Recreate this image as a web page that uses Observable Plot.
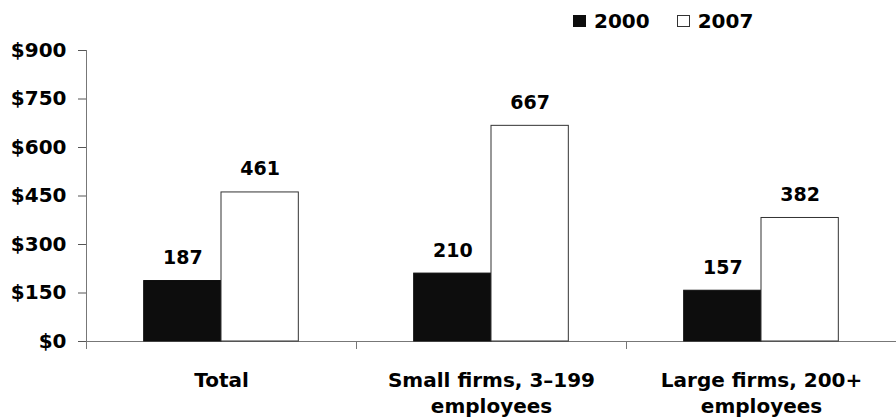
<!DOCTYPE html>
<html>
<head>
<meta charset="utf-8">
<script src="https://cdn.jsdelivr.net/npm/d3@7"></script>
<script src="https://cdn.jsdelivr.net/npm/@observablehq/plot@0.6"></script>
<style>
  html, body { margin: 0; padding: 0; background: #fff; }
  body { width: 896px; height: 417px; overflow: hidden; font-family: "DejaVu Sans", sans-serif; font-weight: bold; }
  #legend { height: 30px; padding-top: 12px; display: flex; align-items: center; padding-left: 573px; box-sizing: border-box; font-size: 20px; color: #000; }
  #legend .item { display: flex; align-items: center; margin-right: 27px; }
  #legend .sw { width: 13px; height: 12px; margin-right: 8px; box-sizing: border-box; }
  #chart svg { display: block; overflow: visible; }
</style>
</head>
<body>
<div id="legend"></div>
<div id="chart"></div>
<script>
const categories = ["Total", "Small firms, 3–199 employees", "Large firms, 200+ employees"];
const tickLabels = ["Total", "Small firms, 3–199\nemployees", "Large firms, 200+\nemployees"];
const years = ["2000", "2007"];
const values2000 = [187, 210, 157];
const values2007 = [461, 667, 382];
const yTicks = [0, 150, 300, 450, 600, 750, 900];

const colors = {"2000": "#0d0d0d", "2007": "#ffffff"};
const strokes = {"2000": "#0d0d0d", "2007": "#333333"};

const data = [];
categories.forEach((c, i) => {
  data.push({category: c, year: "2000", value: values2000[i]});
  data.push({category: c, year: "2007", value: values2007[i]});
});

// legend
const legend = document.getElementById("legend");
years.forEach(y => {
  const item = document.createElement("div");
  item.className = "item";
  const sw = document.createElement("span");
  sw.className = "sw";
  sw.style.background = colors[y];
  sw.style.border = "1px solid " + strokes[y];
  item.appendChild(sw);
  item.appendChild(document.createTextNode(y));
  legend.appendChild(item);
});

const width = 896, marginLeft = 86, marginRight = 0;
const halfBand = (width - marginLeft - marginRight) / categories.length / 2;
const labelOf = new Map(categories.map((c, i) => [c, tickLabels[i]]));

const chart = Plot.plot({
  width,
  height: 387,
  marginTop: 20,
  marginBottom: 76,
  marginLeft,
  marginRight,
  style: {fontFamily: "DejaVu Sans, sans-serif", fontWeight: "bold", fontSize: "20px", color: "#000", background: "#fff", overflow: "visible"},
  fx: {domain: categories, padding: 0, label: null, round: false},
  x: {domain: years, paddingInner: 0, paddingOuter: 0.746, axis: null, round: false},
  y: {domain: [0, 900], label: null},
  marks: [
    Plot.frame({anchor: "left", facetAnchor: "left", stroke: "#777"}),
    Plot.ruleY([0], {stroke: "#777"}),
    Plot.barY(data, {fx: "category", x: "year", y: "value", fill: d => colors[d.year], stroke: d => strokes[d.year], strokeWidth: 1}),
    Plot.text(data, {fx: "category", x: "year", y: "value", text: d => String(d.value), dy: -17, lineAnchor: "bottom", fontSize: 19, fill: "#000"}),
    Plot.axisY({ticks: yTicks, tickFormat: d => "$" + d, tickSize: 8, tickPadding: 12, stroke: "#555", label: null, fontSize: 20}),
    Plot.axisFx({anchor: "bottom", tickSize: 8, tickFormat: () => "", dx: -halfBand, stroke: "#777", label: null}),
    Plot.axisFx({anchor: "bottom", tickSize: 0, tickPadding: 27, tickFormat: d => labelOf.get(d), lineHeight: 1.3, fontSize: 20, label: null})
  ]
});
document.getElementById("chart").appendChild(chart);
</script>
</body>
</html>
